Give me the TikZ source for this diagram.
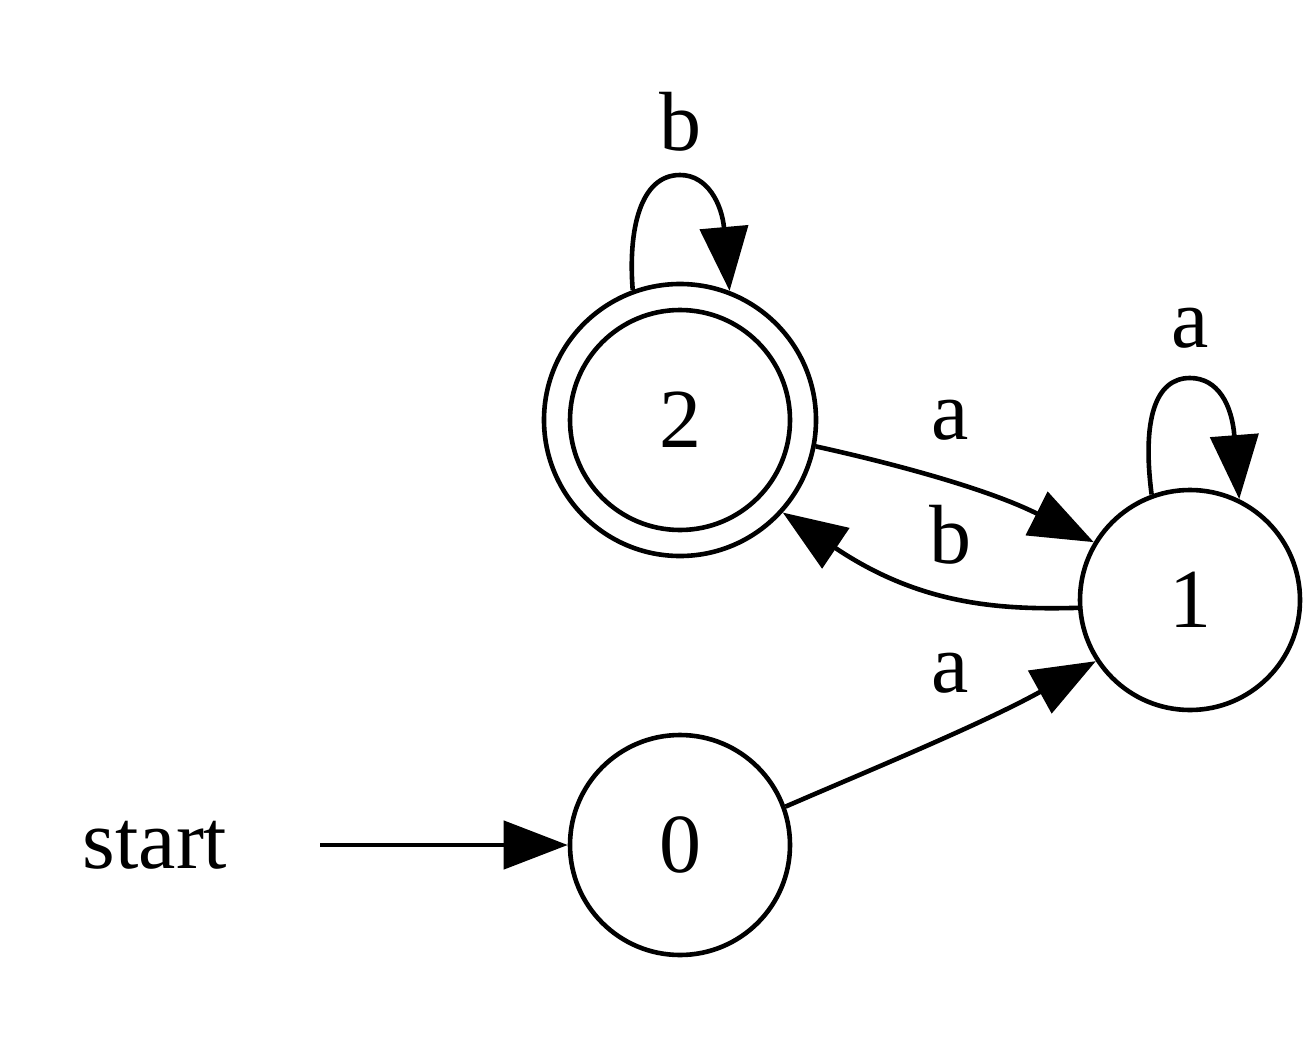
\documentclass[tikz,border=0pt]{standalone}
\usepackage{fontspec}
\setmainfont{Liberation Serif}
\usetikzlibrary{arrows.meta}
\begin{document}
\begin{tikzpicture}[x=1pt,y=-1pt,
  every node/.style={font=\fontsize{84}{100}\selectfont},
  state/.style={circle,draw,line width=4.6pt,inner sep=0pt,minimum size=220pt},
  edge/.style={line width=4.6pt,-{Triangle[length=64pt,width=48pt]}},
  lbl/.style={inner sep=0pt}]
\useasboundingbox (0,0) rectangle (1314,1038);
\node[state,minimum size=272pt] (n2) at (680,420) {2};
\node[state] (n2in) at (680,420) {};
\node[state] (n1) at (1190,600) {1};
\node[state] (n0) at (680,845) {0};
\node[lbl] (st) at (155,845) {start};
\coordinate (s0) at (320,845);
\draw[edge] (s0) -- (n0);
% loop on 2
\draw[edge] (n2.110) .. controls (628,230) and (640,175) .. (680,175)
  .. controls (708,175) and (722,205) .. (n2.69);
\node[lbl] (lb2) at (680,122) {b};
% loop on 1
\draw[edge] (n1.110) .. controls (1142,420) and (1155,378) .. (1190,378)
  .. controls (1218,378) and (1232,405) .. (n1.64);
\node[lbl] (la1) at (1190,328) {a};
% 2 -> 1
\draw[edge] (n2.-11) .. controls (900,465) and (990,490) .. (n1.149);
\node[lbl] (la21) at (950,420) {a};
% 1 -> 2
\draw[edge] (n1.184) .. controls (1000,610) and (920,605) .. (n2.-42);
\node[lbl] (lb12) at (950,535) {b};
% 0 -> 1
\draw[edge] (n0.20) .. controls (870,770) and (980,725) .. (n1.213);
\node[lbl] (la01) at (950,673) {a};
\end{tikzpicture}
\end{document}
